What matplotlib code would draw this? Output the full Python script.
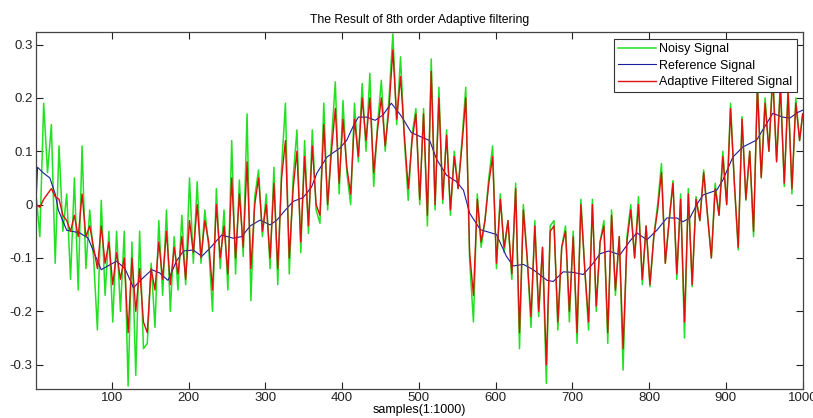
import numpy as np
import matplotlib
matplotlib.use("Agg")
import matplotlib.pyplot as plt

# samples 1, 6, 11, ... 996 and then 1000
samples = np.r_[np.arange(1, 1000, 5), 1000]

# noisy signal, one row per 50 samples
noisy = [
    0.02, -0.06, 0.19, 0.06, 0.15, -0.11, 0.11, -0.05, 0.02, -0.14,
    0.05, -0.16, 0.11, -0.12, -0.01, -0.1, -0.235, 0.008, -0.17, -0.05,
    -0.22, -0.05, -0.2, -0.05, -0.34, -0.07, -0.32, -0.05, -0.27, -0.26,
    -0.11, -0.23, -0.03, -0.17, -0.01, -0.2, -0.06, -0.16, -0.02, -0.15,
    0.05, -0.11, 0.043, -0.11, -0.01, -0.08, -0.2, 0.03, -0.12, -0.01,
    -0.16, 0.12, -0.13, 0.046, -0.097, 0.17, -0.18, 0.015, 0.065, -0.06,
    0.02, -0.12, 0.07, -0.15, 0.07, 0.19, -0.13, 0.05, 0.14, -0.09,
    0.12, -0.054, 0.14, -0.01, -0.035, 0.19, -0.01, 0.12, 0.23, 0.02,
    0.195, 0.06, 0.0, 0.19, 0.08, 0.227, 0.1, 0.246, 0.034, 0.15,
    0.233, 0.1, 0.2, 0.32, 0.15, 0.277, 0.12, 0.008, 0.13, 0.18,
    0.0, 0.18, -0.04, 0.273, -0.01, 0.22, 0.002, 0.14, -0.02, 0.1,
    0.03, 0.12, 0.22, -0.104, -0.22, 0.02, -0.08, -0.03, 0.05, 0.11,
    -0.12, 0.02, -0.09, -0.03, -0.14, 0.04, -0.27, 0.0, -0.1, -0.23,
    -0.03, -0.21, -0.08, -0.335, -0.04, -0.03, -0.235, -0.08, -0.04, -0.22,
    -0.05, -0.26, 0.01, -0.12, -0.235, 0.01, -0.2, -0.07, -0.03, -0.26,
    -0.01, -0.17, -0.06, -0.31, -0.06, 0.0, -0.1, 0.015, -0.15, -0.04,
    -0.154, -0.06, 0.0, 0.077, -0.11, -0.03, 0.045, -0.14, 0.02, -0.25,
    0.03, -0.154, 0.015, -0.03, 0.065, -0.02, -0.1, 0.04, -0.02, 0.1,
    0.0, 0.19, 0.04, -0.085, 0.165, 0.008, 0.1, -0.06, 0.23, 0.052,
    0.2, 0.1, 0.25, 0.083, 0.23, 0.034, 0.22, 0.02, 0.2, 0.12,
    0.17,
]

# adaptive filter output, same samples
filtered = [
    0.0, -0.005, 0.01, 0.02, 0.03, 0.015, 0.01, -0.02, -0.03, -0.05,
    -0.02, -0.06, 0.02, -0.06, -0.04, -0.08, -0.12, -0.04, -0.11, -0.07,
    -0.15, -0.09, -0.14, -0.1, -0.24, -0.1, -0.2, -0.12, -0.22, -0.24,
    -0.12, -0.16, -0.07, -0.14, -0.05, -0.15, -0.08, -0.13, -0.06, -0.14,
    -0.03, -0.09, 0.0, -0.1, -0.03, -0.07, -0.16, 0.0, -0.1, -0.04,
    -0.13, 0.05, -0.1, 0.02, -0.08, 0.08, -0.12, 0.0, 0.05, -0.05,
    0.0, -0.1, 0.04, -0.12, 0.05, 0.12, -0.1, 0.03, 0.1, -0.07,
    0.09, -0.04, 0.11, 0.0, -0.02, 0.15, 0.0, 0.1, 0.18, 0.04,
    0.16, 0.07, 0.02, 0.16, 0.09, 0.2, 0.12, 0.2, 0.06, 0.14,
    0.2, 0.11, 0.18, 0.29, 0.16, 0.24, 0.13, 0.03, 0.12, 0.17,
    0.01, 0.17, -0.02, 0.25, 0.0, 0.2, 0.01, 0.13, -0.01, 0.09,
    0.03, 0.11, 0.2, -0.09, -0.17, 0.01, -0.07, -0.03, 0.04, 0.09,
    -0.11, 0.01, -0.08, -0.03, -0.13, 0.03, -0.24, -0.01, -0.1, -0.21,
    -0.04, -0.2, -0.08, -0.3, -0.05, -0.04, -0.22, -0.08, -0.05, -0.2,
    -0.06, -0.24, 0.0, -0.12, -0.22, 0.0, -0.19, -0.07, -0.04, -0.24,
    -0.02, -0.16, -0.06, -0.27, -0.07, -0.01, -0.1, 0.0, -0.14, -0.04,
    -0.15, -0.06, -0.01, 0.06, -0.11, -0.03, 0.04, -0.13, 0.01, -0.22,
    0.02, -0.15, 0.01, -0.03, 0.06, -0.02, -0.1, 0.03, -0.02, 0.09,
    0.0, 0.18, 0.04, -0.08, 0.16, 0.01, 0.1, -0.05, 0.22, 0.05,
    0.19, 0.1, 0.24, 0.08, 0.22, 0.04, 0.21, 0.03, 0.19, 0.12,
    0.17,
]

# clean reference, read at uneven sample points
ref_samples = [1, 3, 10, 19, 26, 30, 41, 58, 69, 78, 86, 97, 106, 117, 128, 137,
               152, 162, 173, 184, 193, 206, 217, 228, 243, 258, 269, 280, 293,
               306, 315, 323, 336, 349, 360, 367, 380, 397, 406, 414, 421, 432,
               443, 453, 464, 477, 490, 501, 514, 523, 536, 549, 558, 566, 580,
               601, 614, 623, 636, 649, 667, 675, 688, 701, 714, 727, 736, 747,
               762, 775, 784, 797, 810, 823, 836, 844, 853, 862, 870, 888, 896,
               909, 922, 940, 953, 961, 974, 983, 994, 1000]
ref_values = [0.0, 0.07, 0.06, 0.05, 0.02, -0.01, -0.048, -0.053, -0.063, -0.095,
              -0.122, -0.113, -0.106, -0.12, -0.156, -0.142, -0.122, -0.128, -0.142,
              -0.106, -0.087, -0.085, -0.097, -0.081, -0.057, -0.063, -0.06, -0.04,
              -0.029, -0.038, -0.029, -0.015, 0.006, 0.013, 0.033, 0.059, 0.089,
              0.106, 0.121, 0.146, 0.164, 0.164, 0.158, 0.168, 0.19, 0.166, 0.135,
              0.128, 0.12, 0.085, 0.055, 0.043, 0.027, -0.016, -0.047, -0.056,
              -0.097, -0.115, -0.112, -0.122, -0.142, -0.144, -0.126, -0.127, -0.131,
              -0.11, -0.092, -0.087, -0.094, -0.068, -0.053, -0.066, -0.048, -0.025,
              -0.025, -0.032, -0.025, 0.0, 0.018, 0.027, 0.046, 0.089, 0.108, 0.121,
              0.152, 0.171, 0.164, 0.162, 0.173, 0.177]

plt.rcParams['font.family'] = ['Liberation Sans', 'DejaVu Sans']

fig = plt.figure(figsize=(8.13, 4.18), dpi=100)
ax = fig.add_axes([0.0443, 0.0701, 0.943, 0.854])

ax.plot(samples, noisy, color='#22e022', lw=1.1, label='Noisy Signal')
ax.plot(ref_samples, ref_values, color='#1c1c9c', lw=0.8, label='Reference Signal')
ax.plot(samples, filtered, color='#e01010', lw=1.0, label='Adaptive Filtered Signal')

ax.set_xlim(1, 1000)
ax.set_ylim(-0.345, 0.324)
ax.set_xticks(np.arange(100, 1001, 100))
ax.set_yticks([-0.3, -0.2, -0.1, 0, 0.1, 0.2, 0.3])
ax.set_yticklabels(['-0.3', '-0.2', '-0.1', '0', '0.1', '0.2', '0.3'])
ax.tick_params(direction='in', length=5, width=0.8, top=True, right=True,
               labelsize=9.5, colors='#222222', pad=2.5)
for sp in ax.spines.values():
    sp.set_color('#444444')
    sp.set_linewidth(0.9)

ax.set_title('The Result of 8th order Adaptive filtering', fontsize=8.8, pad=6)
ax.set_xlabel('samples(1:1000)', fontsize=9, labelpad=0)

leg = ax.legend(loc='upper right', bbox_to_anchor=(0.9925, 0.98), fontsize=9,
                fancybox=False, framealpha=1, edgecolor='#333333',
                handlelength=3.0, handletextpad=0.3, labelspacing=0.35,
                borderpad=0.35, borderaxespad=0)
leg.get_frame().set_linewidth(0.8)

fig.savefig('out.png', dpi=100)
